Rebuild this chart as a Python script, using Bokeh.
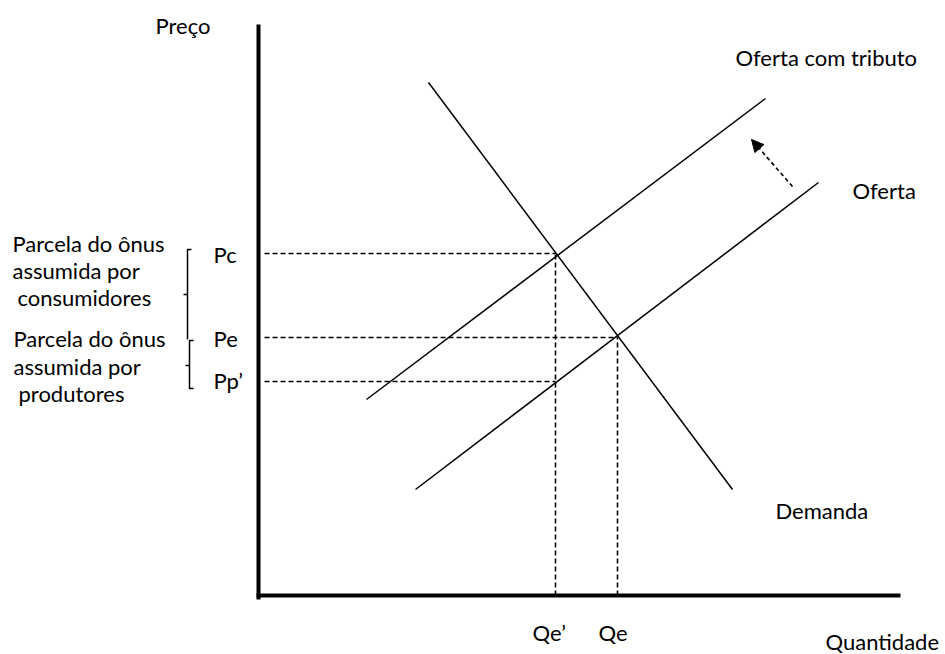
from bokeh.plotting import figure
from bokeh.models import Range1d, Arrow, NormalHead
from bokeh.core.properties import value
from bokeh.embed import file_html
from bokeh.resources import INLINE

# ---- data (quantity q, price p; origin at the axes corner) ----
demand_q = [170, 474]
demand_p = [513, 106]
supply_q = [157, 560]
supply_p = [106, 413]
tax_q = [108, 507]
tax_p = [196, 497]

price_labels = ["Pc", "Pe", "Pp\u2019"]
price_levels = [342, 258, 214]
price_qend = [297, 359, 297]

qty_labels = ["Qe\u2019", "Qe"]
qty_levels = [297, 359]
qty_ptop = [342, 258]

axis_q_max = 642
axis_p_max = 571

shift_tail = [534, 409]
shift_tip = [493, 456]

W, H = 945, 654
FONT = "Lato"
FS = "22px"

p = figure(width=W, height=H, output_backend="svg", toolbar_location=None,
           x_range=Range1d(-258, -258 + W), y_range=Range1d(-59, -59 + H),
           min_border=0)
p.axis.visible = False
p.grid.visible = False
p.outline_line_color = None
p.background_fill_color = "white"
p.border_fill_color = "white"

# axes
p.line([0, 0], [-4, axis_p_max], line_color="black", line_width=4)
p.line([-2, axis_q_max], [0, 0], line_color="black", line_width=4)

# curves
p.line(demand_q, demand_p, line_color="black", line_width=1.5)
p.line(supply_q, supply_p, line_color="black", line_width=1.5)
p.line(tax_q, tax_p, line_color="black", line_width=1.5)

# dashed guides
for lvl, qe in zip(price_levels, price_qend):
    p.line([6, qe], [lvl, lvl], line_color="black", line_width=1.6, line_dash="5 3")
for q, pt in zip(qty_levels, qty_ptop):
    p.line([q, q], [0, pt], line_color="black", line_width=1.6, line_dash="5 3")

# shift arrow
p.add_layout(Arrow(x_start=shift_tail[0], y_start=shift_tail[1],
                   x_end=shift_tip[0], y_end=shift_tip[1],
                   line_color="black", line_width=1.6, line_dash="4 3",
                   end=NormalHead(size=12, fill_color="black", line_color="black", line_width=1)))

# braces
brace_xs = [[-67, -71, -71], [-75, -71], [-65, -69, -69, -65], [-73, -69]]
brace_ys = [[346, 346, 256], [301, 301], [255, 255, 207, 207], [230, 230]]
p.multi_line(brace_xs, brace_ys, line_color="black", line_width=1.5)

def txt(x, y, s, align="left"):
    p.text(x=[x], y=[y], text=[s], text_font=value(FONT), text_font_size=FS,
           text_color="black", text_align=align, text_baseline="alphabetic")

txt(-103, 570, "Preço")
txt(477, 538, "Oferta com tributo")
txt(594, 405, "Oferta")
txt(517, 85, "Demanda")
txt(567, -46, "Quantidade")

for lab, lvl in zip(price_labels, [341, 257, 215]):
    txt(-45, lvl, lab)
txt(274, -37, qty_labels[0])
txt(340, -37, qty_labels[1])

block1 = ["Parcela do ônus", "assumida por", "consumidores"]
block2 = ["Parcela do ônus", "assumida por", "produtores"]
for s, x, y in zip(block1, [-246, -246, -241], [352, 325, 298]):
    txt(x, y, s)
for s, x, y in zip(block2, [-245, -245, -240], [257, 229, 202]):
    txt(x, y, s)

open("out.html", "w").write(file_html(p, INLINE))
